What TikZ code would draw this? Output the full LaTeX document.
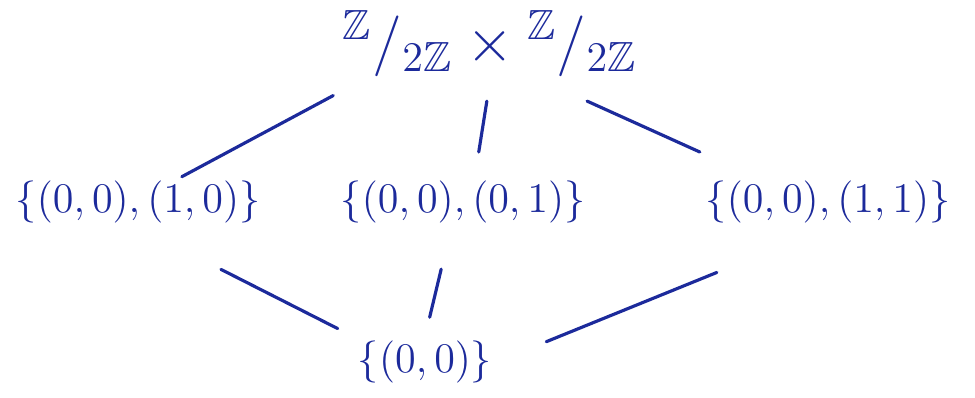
\documentclass[tikz,border=0pt]{standalone}
\usepackage{amssymb}
\usetikzlibrary{positioning}
\definecolor{ink}{RGB}{28,42,155}

\begin{document}
\begin{tikzpicture}[x=0.1mm,y=-0.1mm,
  every node/.style={text=ink,font=\large},
  sub/.style={inner sep=1pt},
  edge/.style={draw=ink,line width=.9pt,line cap=round}]
  \useasboundingbox (0,0) rectangle (975,397);

  % the whole group
  \node[sub,font=\LARGE] (klein) at (490,44)
    {${}^{\mathbb{Z}}/_{2\mathbb{Z}}\times{}^{\mathbb{Z}}/_{2\mathbb{Z}}$};

  % subgroups of order two
  \node[sub] (h1) at (138,202) {$\{(0,0),(1,0)\}$};
  \node[sub] (h2) at (463,202) {$\{(0,0),(0,1)\}$};
  \node[sub] (h3) at (828,202) {$\{(0,0),(1,1)\}$};

  % trivial subgroup
  \node[sub] (triv) at (425,362) {$\{(0,0)\}$};

  \draw[edge,shorten <=3mm] (klein.196) -- (h1.30);
  \draw[edge,shorten <=2mm,shorten >=2.5mm] (klein.south) -- (h2.65);
  \draw[edge,shorten <=4.8mm,shorten >=6mm] (klein.-35) -- (h3.161);
  \draw[edge,shorten <=9.3mm,shorten >=1.8mm] (h1.south) -- (triv.north west);
  \draw[edge,shorten <=4.3mm,shorten >=2mm] (h2.245) -- (triv.north);
  \draw[edge,shorten <=12mm,shorten >=5.4mm] (h3.south) -- (triv.east);
\end{tikzpicture}
\end{document}
